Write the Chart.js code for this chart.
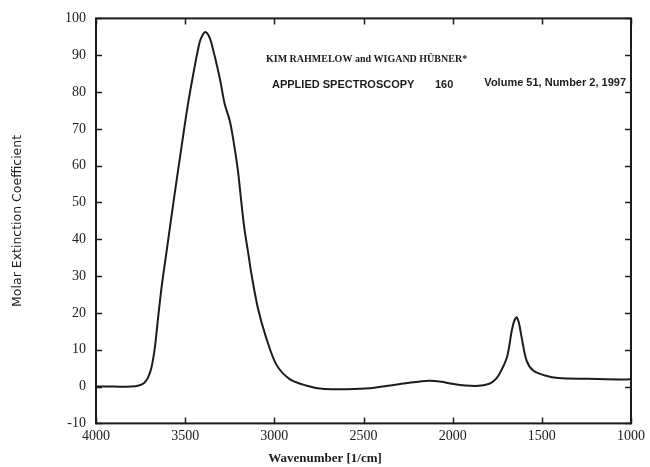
<!DOCTYPE html>
<html>
<head>
<meta charset="utf-8">
<script src="https://cdn.jsdelivr.net/npm/chart.js@4/dist/chart.umd.min.js"></script>
<style>
  html, body { margin: 0; padding: 0; background: #fff; }
  #wrap { width: 650px; height: 467px; }
</style>
</head>
<body>
<div id="wrap"><canvas id="c" width="650" height="467"></canvas></div>
<script>
// Wavenumbers (1/cm) and molar extinction coefficient
const wavenumbers = [4000, 3900, 3800, 3760, 3730, 3708, 3689, 3670, 3652, 3633, 3602, 3560, 3512, 3485, 3456, 3419, 3400, 3387, 3370, 3354, 3307, 3279, 3251, 3233, 3205, 3186, 3168, 3144, 3130, 3093, 3046, 2990, 2916, 2823, 2732, 2600, 2525, 2451, 2350, 2264, 2134, 2060, 2022, 1929, 1855, 1799, 1770, 1743, 1696, 1669, 1655, 1641, 1627, 1613, 1585, 1547, 1482, 1408, 1240, 1035, 1000];
const extinction  = [0, 0, 0, 0.3, 1.0, 2.5, 5.2, 10.6, 18.6, 26.7, 37.5, 52.0, 67.9, 76.5, 84.5, 93.5, 95.7, 96.3, 95.5, 93.5, 84.0, 76.9, 72.4, 67.9, 59.0, 50.5, 43.0, 35.5, 31.0, 21.5, 13.3, 6.1, 2.1, 0.3, -0.6, -0.7, -0.6, -0.4, 0.3, 0.9, 1.6, 1.3, 0.9, 0.3, 0.2, 0.7, 1.5, 3.0, 7.9, 15.1, 17.8, 18.8, 17.0, 13.3, 7.0, 4.3, 3.0, 2.3, 2.1, 1.9, 2.0];
const xTicks = [4000, 3500, 3000, 2500, 2000, 1500, 1000];
const yTicks = [-10, 0, 10, 20, 30, 40, 50, 60, 70, 80, 90, 100];
const titleLine1 = 'KIM RAHMELOW and WIGAND HÜBNER*';
const titleLine2a = 'APPLIED SPECTROSCOPY';
const titleLine2b = '160';
const titleLine2c = 'Volume 51, Number 2, 1997';

const points = wavenumbers.map((w, i) => ({ x: w, y: extinction[i] }));
const INK = '#1c1c1c';

const framePlugin = {
  id: 'frame',
  afterDraw(chart) {
    const { ctx, chartArea: a, scales } = chart;
    ctx.save();
    ctx.strokeStyle = INK;
    ctx.lineWidth = 2;
    ctx.strokeRect(a.left, a.top, a.right - a.left, a.bottom - a.top);
    ctx.lineWidth = 1.5;
    const tl = 6;
    ctx.beginPath();
    xTicks.forEach(v => {
      const px = Math.round(scales.x.getPixelForValue(v)) + 0.5;
      ctx.moveTo(px, a.bottom); ctx.lineTo(px, a.bottom - tl);
      ctx.moveTo(px, a.top); ctx.lineTo(px, a.top + tl);
    });
    yTicks.forEach(v => {
      const py = Math.round(scales.y.getPixelForValue(v)) + 0.5;
      ctx.moveTo(a.left, py); ctx.lineTo(a.left + tl, py);
      ctx.moveTo(a.right, py); ctx.lineTo(a.right - tl, py);
    });
    ctx.stroke();
    // header text inside the plot
    ctx.fillStyle = INK;
    ctx.textBaseline = 'middle';
    ctx.textAlign = 'left';
    ctx.font = 'bold 10px "Liberation Serif", "DejaVu Serif", serif';
    ctx.fillText(titleLine1, a.left + 170, 59);
    ctx.font = 'bold 11px "Liberation Sans", Arial, sans-serif';
    ctx.fillText(titleLine2a, a.left + 176, 85);
    ctx.fillText(titleLine2b, a.left + 339, 85);
    ctx.textAlign = 'right';
    ctx.fillText(titleLine2c, a.right - 5, 83);
    ctx.restore();
  }
};

new Chart(document.getElementById('c'), {
  type: 'line',
  data: {
    datasets: [{
      data: points,
      borderColor: INK,
      borderWidth: 2,
      pointRadius: 0,
      fill: false,
      tension: 0.3
    }]
  },
  options: {
    responsive: false,
    devicePixelRatio: 1,
    animation: false,
    layout: { padding: { left: 0, right: 0, top: 14, bottom: 0 } },
    plugins: {
      legend: { display: false },
      tooltip: { enabled: false },
      title: {
        display: true,
        position: 'bottom',
        text: 'Wavenumber [1/cm]',
        color: INK,
        font: { family: '"Liberation Serif", "DejaVu Serif", serif', size: 13, weight: 'bold' },
        padding: { top: 0, bottom: 1 }
      }
    },
    scales: {
      x: {
        type: 'linear',
        reverse: true,
        min: 1000,
        max: 4000,
        afterBuildTicks: s => { s.ticks = xTicks.map(v => ({ value: v })); },
        afterFit: s => { s.height = 27; },
        grid: { display: false, drawTicks: false },
        border: { display: false },
        ticks: {
          color: INK,
          padding: 5,
          maxRotation: 0,
          callback: v => String(v),
          font: { family: '"Liberation Serif", "DejaVu Serif", serif', size: 14 }
        }
      },
      y: {
        type: 'linear',
        min: -10,
        max: 100,
        afterBuildTicks: s => { s.ticks = yTicks.map(v => ({ value: v })); },
        afterFit: s => { s.width = 96; },
        grid: { display: false, drawTicks: false },
        border: { display: false },
        ticks: {
          color: INK,
          padding: 10,
          callback: v => String(v),
          font: { family: '"Liberation Serif", "DejaVu Serif", serif', size: 14 }
        },
        title: {
          display: true,
          text: 'Molar Extinction Coefficient',
          color: INK,
          font: { family: '"DejaVu Sans", sans-serif', size: 12.5 },
          padding: { top: 10, bottom: 0 }
        }
      },
      yRight: {
        type: 'linear',
        position: 'right',
        min: -10,
        max: 100,
        afterFit: s => { s.width = 17; },
        grid: { display: false, drawTicks: false },
        border: { display: false },
        ticks: { display: false }
      }
    }
  },
  plugins: [framePlugin]
});
</script>
</body>
</html>
